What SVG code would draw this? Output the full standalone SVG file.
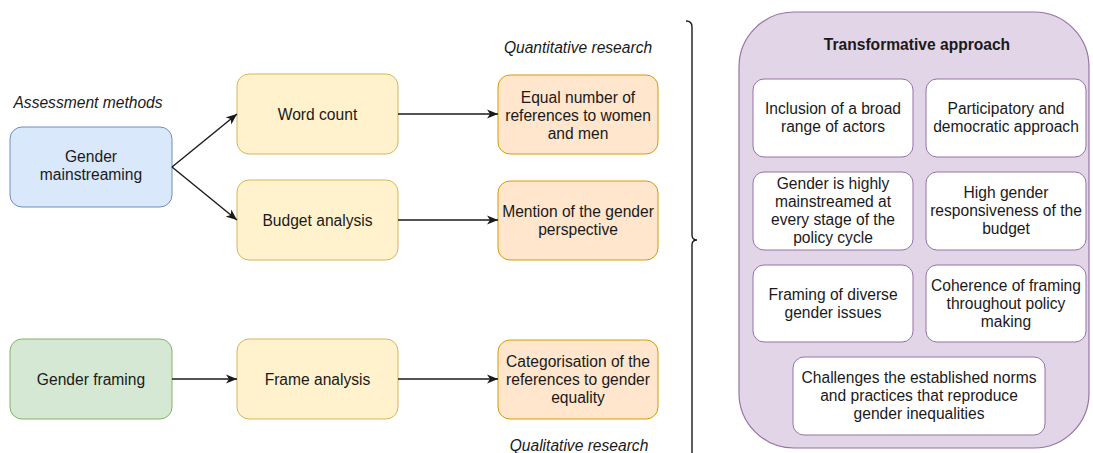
<svg xmlns="http://www.w3.org/2000/svg" width="1093" height="453" viewBox="0 0 1093 453">
<style>
text{font-family:"Liberation Sans",Arial,sans-serif;font-size:15.6px;fill:#1a1a1a;text-anchor:middle}
.it{font-style:italic}
.b{font-weight:bold}
.blue{fill:#dae8fc;stroke:#6c8ebf;stroke-width:1}
.yel{fill:#fff2cc;stroke:#d6b656;stroke-width:1}
.org{fill:#ffe6cc;stroke:#d79b00;stroke-width:1}
.grn{fill:#d5e8d4;stroke:#82b366;stroke-width:1}
.pur{fill:#e1d5e7;stroke:#9673a6;stroke-width:1.2}
.wht{fill:#ffffff;stroke:#9673a6;stroke-width:1}
.edge{fill:none;stroke:#1a1a1a;stroke-width:1.4}
</style>
<defs>
<marker id="arr" markerUnits="userSpaceOnUse" markerWidth="12" markerHeight="10" refX="11" refY="5" orient="auto">
<path d="M0,0.5 L11,5 L0,9.5 L3,5 Z" fill="#1a1a1a"/>
</marker>
</defs>
<rect width="1093" height="453" fill="#ffffff"/>

<g id="labels">
<text class="it" x="88" y="108">Assessment methods</text>
<text class="it" x="578" y="53">Quantitative research</text>
<text class="it" x="579" y="451">Qualitative research</text>
</g>

<g id="gender-mainstreaming">
<rect class="blue" x="10" y="127" width="162" height="80" rx="12"/>
<text x="91" y="162">Gender</text>
<text x="91" y="180">mainstreaming</text>
</g>
<g id="word-count">
<rect class="yel" x="237" y="74" width="161" height="80" rx="12"/>
<text x="317.5" y="119.5">Word count</text>
</g>
<g id="budget-analysis">
<rect class="yel" x="237" y="180" width="161" height="80" rx="12"/>
<text x="317.5" y="225.5">Budget analysis</text>
</g>
<g id="equal-number">
<rect class="org" x="498" y="75" width="160" height="79" rx="12"/>
<text x="578" y="103">Equal number of</text>
<text x="578" y="121">references to women</text>
<text x="578" y="139">and men</text>
</g>
<g id="mention">
<rect class="org" x="498" y="181" width="160" height="79" rx="12"/>
<text x="578" y="216.5">Mention of the gender</text>
<text x="578" y="234.5">perspective</text>
</g>
<g id="gender-framing">
<rect class="grn" x="10" y="339" width="162" height="80" rx="12"/>
<text x="91" y="384.5">Gender framing</text>
</g>
<g id="frame-analysis">
<rect class="yel" x="237" y="339" width="161" height="80" rx="12"/>
<text x="317.5" y="384.5">Frame analysis</text>
</g>
<g id="categorisation">
<rect class="org" x="498" y="340" width="160" height="79" rx="12"/>
<text x="578" y="367">Categorisation of the</text>
<text x="578" y="385">references to gender</text>
<text x="578" y="403">equality</text>
</g>

<g id="brace">
<path class="edge" d="M686,21 Q692,21 692,27 L692,235 Q692,240 697,240 Q692,240 692,245 L692,453"/>
</g>

<g id="transformative-approach">
<rect class="pur" x="739" y="12" width="350" height="436" rx="55"/>
<text class="b" x="917" y="50">Transformative approach</text>
</g>
<g id="inclusion">
<rect class="wht" x="753" y="79" width="160" height="78" rx="11"/>
<text x="833" y="113.5">Inclusion of a broad</text>
<text x="833" y="131.5">range of actors</text>
</g>
<g id="participatory">
<rect class="wht" x="926" y="79" width="160" height="78" rx="11"/>
<text x="1006" y="113.5">Participatory and</text>
<text x="1006" y="131.5">democratic approach</text>
</g>
<g id="gender-highly">
<rect class="wht" x="753" y="172" width="160" height="78" rx="11"/>
<text x="833" y="189">Gender is highly</text>
<text x="833" y="207">mainstreamed at</text>
<text x="833" y="225">every stage of the</text>
<text x="833" y="243">policy cycle</text>
</g>
<g id="high-gender">
<rect class="wht" x="926" y="172" width="160" height="78" rx="11"/>
<text x="1006" y="198">High gender</text>
<text x="1006" y="216">responsiveness of the</text>
<text x="1006" y="234">budget</text>
</g>
<g id="framing-diverse">
<rect class="wht" x="753" y="265" width="160" height="77" rx="11"/>
<text x="833" y="299.5">Framing of diverse</text>
<text x="833" y="317.5">gender issues</text>
</g>
<g id="coherence">
<rect class="wht" x="926" y="265" width="160" height="77" rx="11"/>
<text x="1006" y="290.5">Coherence of framing</text>
<text x="1006" y="308.5">throughout policy</text>
<text x="1006" y="326.5">making</text>
</g>
<g id="challenges">
<rect class="wht" x="793" y="357" width="252" height="78" rx="11"/>
<text x="919" y="383">Challenges the established norms</text>
<text x="919" y="401">and practices that reproduce</text>
<text x="919" y="419">gender inequalities</text>
</g>

<g id="connectors">
<path class="edge" marker-end="url(#arr)" d="M172,167 L237,114"/>
<path class="edge" marker-end="url(#arr)" d="M172,167 L237,220"/>
<path class="edge" marker-end="url(#arr)" d="M398,114 L498,114"/>
<path class="edge" marker-end="url(#arr)" d="M398,220 L498,220"/>
<path class="edge" marker-end="url(#arr)" d="M172,379 L237,379"/>
<path class="edge" marker-end="url(#arr)" d="M398,379 L498,379"/>
</g>
</svg>
